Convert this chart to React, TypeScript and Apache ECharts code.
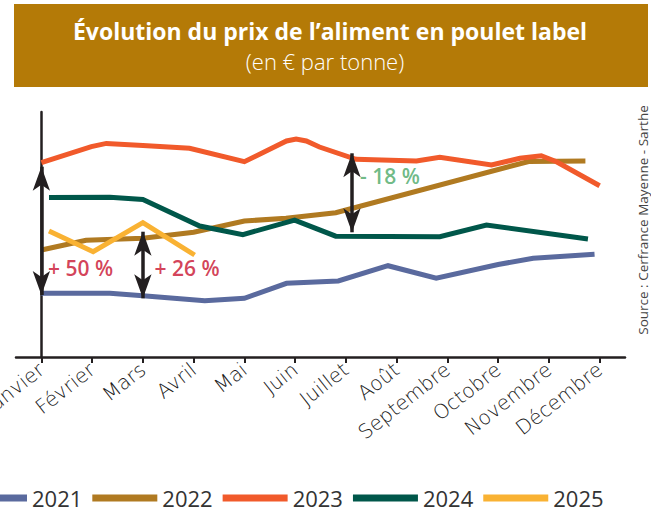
import React, { useEffect, useRef } from "react";
import * as echarts from "echarts";

const months = ["Janvier", "Février", "Mars", "Avril", "Mai", "Juin", "Juillet", "Août", "Septembre", "Octobre", "Novembre", "Décembre"];

// [month position (0 = Janvier), price €/t]
const y2021 = [[0, 329.6], [1.35, 329.6], [2, 326.6], [3.22, 320.4], [4, 323.4], [4.83, 342.1], [5.85, 345], [6.83, 364.1], [7.78, 348.4], [9, 365.6], [9.69, 373.4], [10.9, 378.4]];
const y2022 = [[0, 383.75], [0.88, 396], [2, 398.4], [3, 406], [4, 420], [4.82, 423.4], [5.8, 430.4], [9.6, 494.4], [10.72, 495]];
const y2023 = [[0, 493], [0.985, 513], [1.28, 517], [2, 514.4], [2.92, 510.9], [4, 494.1], [4.83, 520], [5.02, 522.5], [5.22, 520], [5.48, 512.5], [6.2, 497.1], [7.39, 495], [7.85, 499.6], [8.87, 490], [9.43, 498.4], [9.85, 501.6], [10.15, 494.1], [11, 464]];
const y2024 = [[0.15, 449.4], [1.35, 449.6], [2, 446.9], [3.12, 413.75], [3.97, 403], [4.99, 421], [5.8, 401], [7.85, 400.4], [8.77, 415], [10.77, 397.5]];
const y2025 = [[0.15, 407.5], [1.02, 381.6], [2, 417.9], [3.02, 377.5]];

const years = ["2021", "2022", "2023", "2024", "2025"];
const colors = ["#5a6a9e", "#b07a21", "#f15a2b", "#00574a", "#f9b233"];
const yearData = [y2021, y2022, y2023, y2024, y2025];

// arrows: [x position, from value, to value]
const arrows = [[0, 327.5, 487.9], [2, 323.4, 406.6], [6.12, 405.9, 504.6]];
// labels: [x position, value, text]
const notes = [[0.12, 361, "+ 50 %"], [2.22, 361, "+ 26 %"], [6.27, 476, "- 18 %"]];
const noteColors = ["#c8102e", "#c8102e", "#4aa866"];

const FONT = "'Open Sans', Lato, sans-serif";
const AXIS_FONT = "'DejaVu Sans', 'Open Sans', sans-serif";

export default function App() {
  const ref = useRef<HTMLDivElement>(null);
  useEffect(() => {
    document.body.style.margin = "0";
    const chart = echarts.init(ref.current!, null, { renderer: "svg" });
    const lineSeries = years.map((y, i) => ({
      name: y,
      type: "line",
      xAxisIndex: 1,
      data: yearData[i],
      symbol: "none",
      lineStyle: { color: colors[i], width: 5, cap: "butt", join: "miter" },
      itemStyle: { color: colors[i] },
      z: 2 + i,
    }));
    chart.setOption({
      animation: false,
      textStyle: { fontFamily: FONT },
      graphic: [
        { type: "rect", shape: { x: 14, y: 4, width: 634, height: 83 }, style: { fill: "#b47a07" }, z: 0 },
        { type: "text", x: 330, y: 31, style: { text: "Évolution du prix de l’aliment en poulet label", fill: "#ffffff", font: "bold 23px " + FONT, textAlign: "center", textVerticalAlign: "middle" }, z: 1 },
        { type: "text", x: 325, y: 61, style: { text: "(en € par tonne)", fill: "#ffffff", font: "300 22px " + FONT, textAlign: "center", textVerticalAlign: "middle" }, z: 1 },
        { type: "text", x: 643, y: 220, rotation: Math.PI / 2, style: { text: "Source : Cerfrance Mayenne - Sarthe", fill: "#444444", font: "13.5px " + FONT, textAlign: "center", textVerticalAlign: "middle" }, z: 1 },
      ],
      grid: { left: 16, top: 112, width: 609, height: 245, containLabel: false, outerBoundsMode: "none" },
      legend: {
        data: years,
        left: -43,
        top: 482,
        icon: "rect",
        itemWidth: 65,
        itemHeight: 7,
        itemGap: 10,
        textStyle: { fontSize: 22, color: "#333333", fontFamily: FONT },
      },
      xAxis: [
        {
          type: "category",
          data: months,
          boundaryGap: true,
          axisLine: { lineStyle: { color: "#231f20", width: 2.5 } },
          axisTick: { show: true, alignWithLabel: true, length: 6, lineStyle: { color: "#231f20", width: 2 } },
          axisLabel: { rotate: 38, interval: 0, fontSize: 20, fontWeight: 200, color: "#1a1a1a", margin: 10, fontFamily: AXIS_FONT },
          splitLine: { show: false },
        },
        { type: "value", min: -0.5, max: 11.5, show: false },
      ],
      yAxis: {
        type: "value",
        min: 250,
        max: 556.25,
        axisLine: { show: true, lineStyle: { color: "#231f20", width: 2.5 } },
        axisTick: { show: false },
        axisLabel: { show: false },
        splitLine: { show: false },
      },
      series: [
        ...lineSeries,
        {
          name: "notes",
          type: "scatter",
          xAxisIndex: 1,
          symbolSize: 1,
          itemStyle: { color: "rgba(0,0,0,0)" },
          z: 10,
          data: notes.map((n, i) => ({
            value: [n[0], n[1]],
            label: { show: true, position: "right", distance: 0, formatter: n[2] as string, color: noteColors[i], fontSize: 21, fontWeight: 600, fontFamily: FONT },
          })),
          markLine: {
            silent: true,
            symbol: ["arrow", "arrow"],
            symbolSize: [13, 24],
            label: { show: false },
            lineStyle: { color: "#231f20", width: 3.5, type: "solid" },
            data: arrows.map((a) => [{ coord: [a[0], a[1]] }, { coord: [a[0], a[2]] }]),
          },
        },
      ],
    });
    return () => chart.dispose();
  }, []);
  return <div ref={ref} style={{ width: 651, height: 511 }} />;
}
